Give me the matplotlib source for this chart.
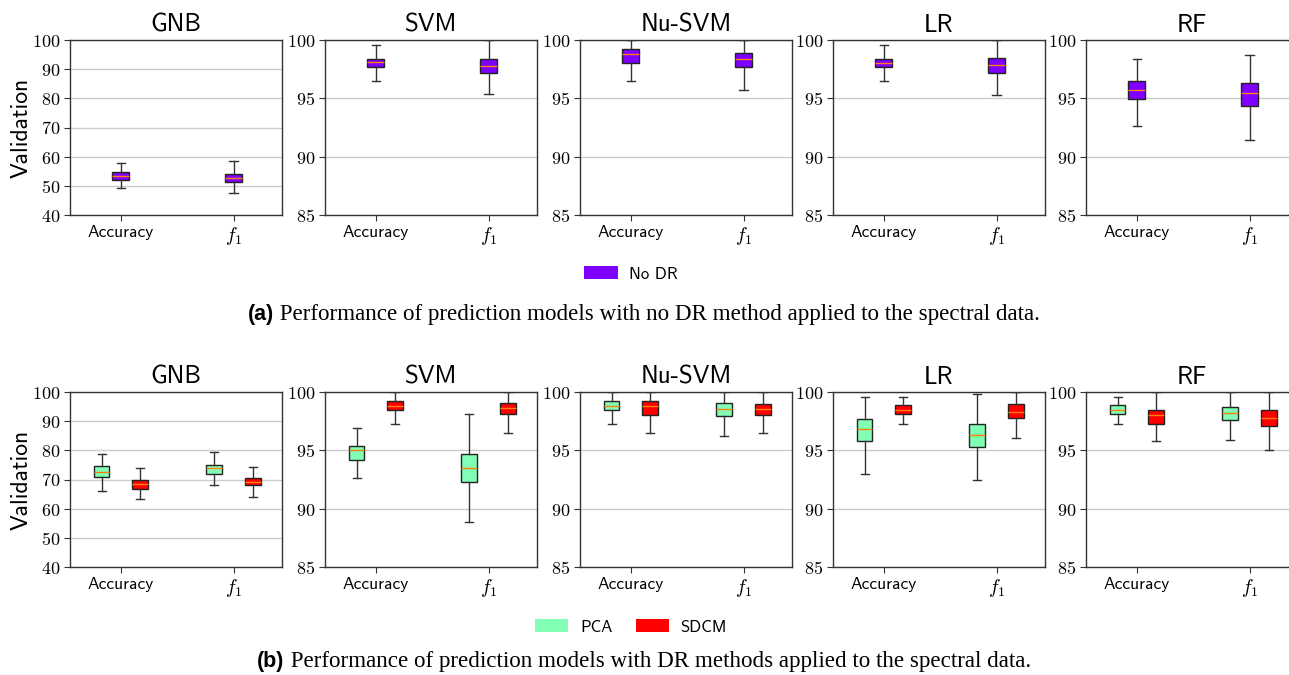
import matplotlib.pyplot as plt
import numpy as np
from matplotlib.patches import Patch

plt.rcParams['mathtext.fontset'] = 'cm'

models = ['GNB', 'SVM', 'Nu-SVM', 'LR', 'RF']
metrics = ['Accuracy', '$f_1$']

# box summaries: [low whisker, q1, median, q3, high whisker] for (Accuracy, f1)
nodr_gnb = [[49.2, 52.1, 53.4, 54.7, 57.7], [47.5, 51.4, 52.6, 54.2, 58.4]]
nodr_svm = [[96.5, 97.7, 98.1, 98.4, 99.6], [95.35, 97.2, 97.8, 98.35, 100.0]]
nodr_nusvm = [[96.5, 98.05, 98.8, 99.2, 100.0], [95.75, 97.7, 98.4, 98.9, 100.0]]
nodr_lr = [[96.5, 97.7, 98.05, 98.4, 99.6], [95.25, 97.15, 97.85, 98.5, 100.0]]
nodr_rf = [[92.6, 94.95, 95.75, 96.5, 98.4], [91.4, 94.35, 95.45, 96.3, 98.75]]

pca_gnb = [[66.0, 71.0, 72.7, 74.5, 78.7], [68.0, 72.0, 73.9, 75.1, 79.3]]
pca_svm = [[92.65, 94.2, 95.0, 95.35, 96.9], [88.85, 92.3, 93.5, 94.65, 98.15]]
pca_nusvm = [[97.3, 98.45, 98.8, 99.25, 100.0], [96.25, 97.95, 98.55, 99.1, 100.0]]
pca_lr = [[93.0, 95.8, 96.85, 97.7, 99.6], [92.45, 95.3, 96.3, 97.25, 99.85]]
pca_rf = [[97.3, 98.1, 98.45, 98.85, 99.6], [95.85, 97.6, 98.2, 98.75, 100.0]]

sdcm_gnb = [[63.3, 66.9, 68.5, 69.8, 73.8], [63.9, 68.0, 69.3, 70.6, 74.3]]
sdcm_svm = [[97.3, 98.45, 98.8, 99.25, 100.0], [96.5, 98.15, 98.6, 99.1, 100.0]]
sdcm_nusvm = [[96.5, 98.05, 98.8, 99.25, 100.0], [96.5, 98.0, 98.55, 99.0, 100.0]]
sdcm_lr = [[97.3, 98.1, 98.5, 98.85, 99.6], [96.1, 97.8, 98.3, 98.95, 100.0]]
sdcm_rf = [[95.8, 97.3, 98.05, 98.45, 100.0], [95.05, 97.1, 97.8, 98.5, 100.0]]

nodr = [nodr_gnb, nodr_svm, nodr_nusvm, nodr_lr, nodr_rf]
pca = [pca_gnb, pca_svm, pca_nusvm, pca_lr, pca_rf]
sdcm = [sdcm_gnb, sdcm_svm, sdcm_nusvm, sdcm_lr, sdcm_rf]

cmap = plt.get_cmap('rainbow')
c_nodr = cmap(0.0)
c_pca = cmap(0.5)
c_sdcm = cmap(1.0)

W, H = 1289, 675
fig = plt.figure(figsize=(W / 100, H / 100), dpi=100)

lefts = [70, 325, 580, 833, 1086]
ax_w = 212
ax_h = 175


def to_stats(vals):
    out = []
    for v in vals:
        out.append({'whislo': v[0], 'q1': v[1], 'med': v[2], 'q3': v[3],
                    'whishi': v[4], 'fliers': []})
    return out


def draw_boxes(ax, vals, pos, color, width):
    ax.bxp(to_stats(vals), positions=pos, widths=width, patch_artist=True,
           showfliers=False,
           boxprops=dict(facecolor=color, edgecolor='#222222', linewidth=1),
           medianprops=dict(color='#ff7f0e', linewidth=1),
           whiskerprops=dict(color='#333333', linewidth=1),
           capprops=dict(color='#333333', linewidth=1))


def setup_axes(ax, name, first):
    if first:
        ax.set_ylim(40, 100)
        ticks = np.arange(40, 101, 10)
    else:
        ax.set_ylim(85, 100)
        ticks = np.arange(85, 101, 5)
    ax.set_yticks(ticks)
    ax.set_yticklabels(['$%d$' % t for t in ticks], fontsize=13)
    ax.set_xlim(0.55, 2.43)
    ax.set_xticks([1, 2])
    ax.set_xticklabels(metrics)
    labs = ax.get_xticklabels()
    labs[0].set_fontfamily('cmss10')
    labs[0].set_fontsize(12.5)
    labs[1].set_fontsize(14)
    ax.tick_params(axis='both', length=4, color='#333333', pad=3)
    ax.yaxis.grid(True, color='#cccccc', linewidth=1)
    ax.set_axisbelow(True)
    for s in ax.spines.values():
        s.set_color('#333333')
        s.set_linewidth(1)
    ax.set_title(name, fontfamily='cmss10', fontsize=18, pad=6)


# (a) models without dimensionality reduction
for i, name in enumerate(models):
    ax = fig.add_axes([lefts[i] / W, 1 - 215 / H, ax_w / W, ax_h / H])
    draw_boxes(ax, nodr[i], [1, 2], c_nodr, 0.15)
    setup_axes(ax, name, i == 0)

# (b) PCA vs SDCM
for i, name in enumerate(models):
    ax = fig.add_axes([lefts[i] / W, 1 - 567 / H, ax_w / W, ax_h / H])
    draw_boxes(ax, pca[i], [0.83, 1.83], c_pca, 0.14)
    draw_boxes(ax, sdcm[i], [1.17, 2.17], c_sdcm, 0.14)
    setup_axes(ax, name, i == 0)

for yc in [128, 480]:
    fig.text(22 / W, 1 - yc / H, 'Validation', rotation=90, ha='center',
             va='center', fontfamily='cmss10', fontsize=17)

leg_kw = dict(loc='center', frameon=False, handlelength=2.0, handleheight=0.8,
              handletextpad=0.7, prop={'family': 'cmss10', 'size': 12})
fig.legend(handles=[Patch(facecolor=c_nodr, label='No DR')],
           bbox_to_anchor=(631 / W, 1 - 274 / H), **leg_kw)
fig.legend(handles=[Patch(facecolor=c_pca, label='PCA'),
                    Patch(facecolor=c_sdcm, label='SDCM')],
           bbox_to_anchor=(631 / W, 1 - 627 / H), ncol=2, columnspacing=1.4,
           **leg_kw)

# captions: bold sans tag followed by serif text
captions = [('(a)', ' Performance of prediction models with no DR method applied to the spectral data.', 320),
            ('(b)', ' Performance of prediction models with DR methods applied to the spectral data.', 667)]
fig.canvas.draw()
renderer = fig.canvas.get_renderer()
for tag, body, yb in captions:
    t1 = fig.text(0, 1 - yb / H, tag, fontfamily='Liberation Sans',
                  fontweight='bold', fontsize=15.5, va='baseline')
    t2 = fig.text(0, 1 - yb / H, body, fontfamily='Liberation Serif',
                  fontsize=16.6, va='baseline')
    w1 = t1.get_window_extent(renderer).width
    w2 = t2.get_window_extent(renderer).width
    x0 = 644 - (w1 + w2) / 2
    t1.set_x(x0 / W)
    t2.set_x((x0 + w1) / W)

fig.savefig('out.png', dpi=100)
